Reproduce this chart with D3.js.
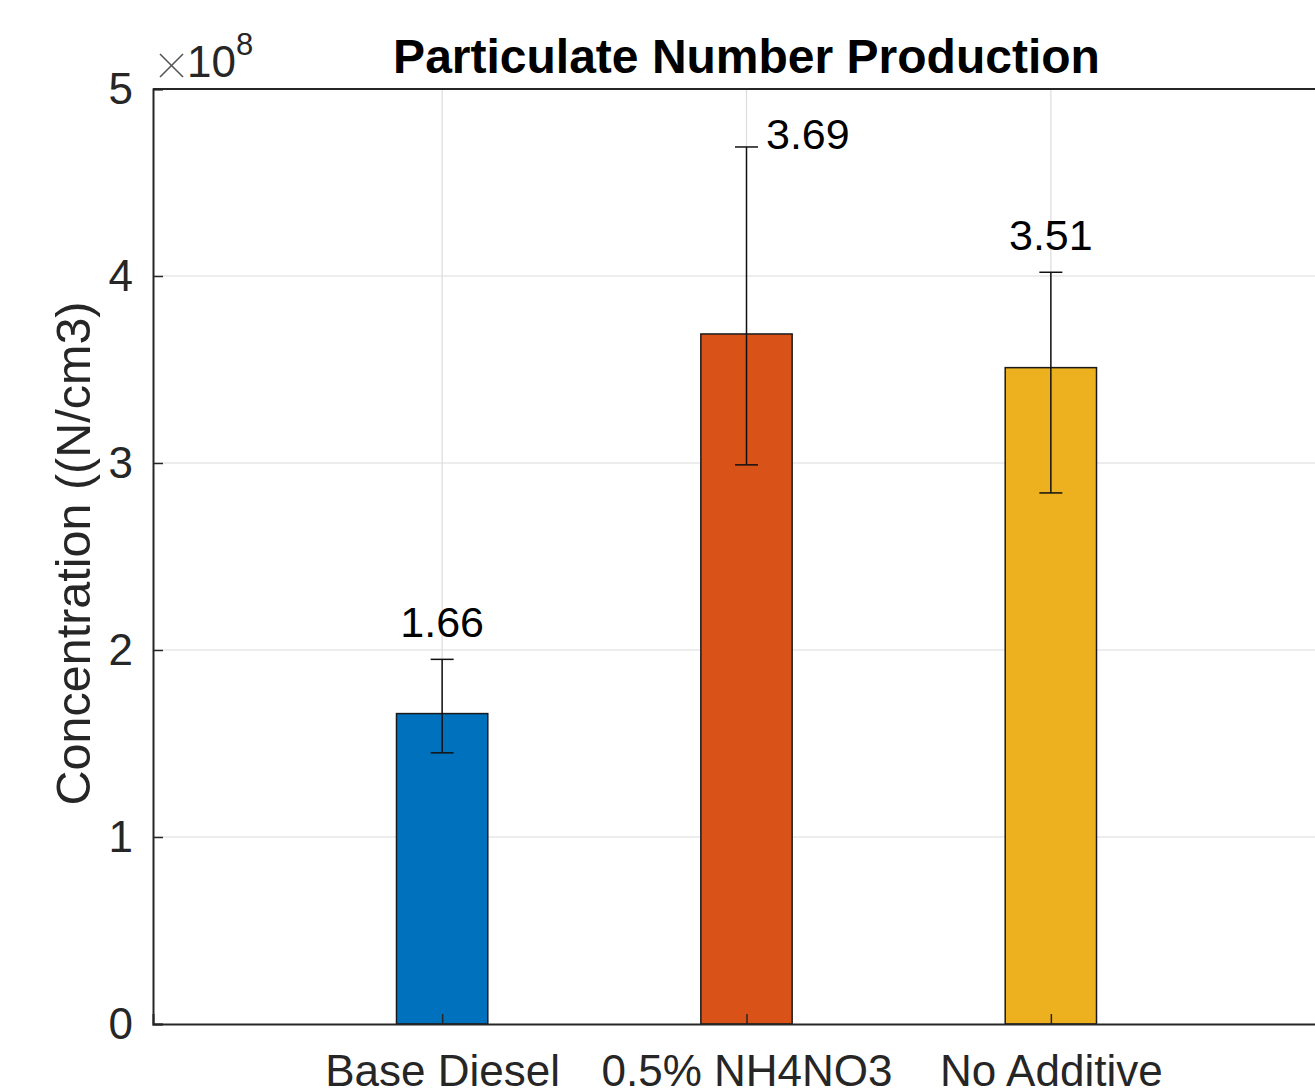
<!DOCTYPE html>
<html>
<head>
<meta charset="utf-8">
<script src="https://cdn.jsdelivr.net/npm/d3@7"></script>
<style>
  html, body { margin: 0; padding: 0; background: #fff; }
  svg { display: block; font-family: "Liberation Sans", Arial, Helvetica, sans-serif; }
</style>
</head>
<body>
<svg id="chart" width="1315" height="1088"></svg>
<script>
// Fuel blends on the x axis
const categories = ["Base Diesel", "0.5% NH4NO3", "No Additive"];
// Mean particulate number concentration (×10^8 N/cm3)
const means = [1.66, 3.69, 3.51];
// Upper and lower error bar extents (×10^8 N/cm3)
const errUpper = [0.29, 1.00, 0.51];
const errLower = [0.21, 0.70, 0.67];
// Bar fill colours
const barColors = ["#0072BD", "#D95319", "#EDB120"];
// Y axis ticks
const yTicks = [0, 1, 2, 3, 4, 5];

const svg = d3.select("#chart");
const W = 1315, H = 1088;
svg.append("rect").attr("width", W).attr("height", H).attr("fill", "#fff");

const margin = { left: 153, top: 89, bottom: 1024 };
const axisRight = 1340;
const textColor = "#262626";
const tickFont = 44;

const x = d3.scaleLinear().domain([0.05, 3.95]).range([margin.left, axisRight]);
const y = d3.scaleLinear().domain([0, 5]).range([margin.bottom, margin.top]);
const barW = x(1.3) - x(1);
const capHalf = 11.5;

const plot = svg.append("g");

// Grid lines
plot.append("g").selectAll("line.hgrid").data(yTicks.slice(1, -1)).join("line")
  .attr("x1", margin.left).attr("x2", axisRight)
  .attr("y1", d => y(d)).attr("y2", d => y(d))
  .attr("stroke", "#dcdcdc").attr("stroke-width", 1.2);
plot.append("g").selectAll("line.vgrid").data(categories).join("line")
  .attr("x1", (d, i) => x(i + 1)).attr("x2", (d, i) => x(i + 1))
  .attr("y1", margin.top).attr("y2", margin.bottom)
  .attr("stroke", "#dcdcdc").attr("stroke-width", 1.2);

// Bars
plot.append("g").selectAll("rect").data(means).join("rect")
  .attr("x", (d, i) => x(i + 1) - barW / 2)
  .attr("width", barW)
  .attr("y", d => y(d))
  .attr("height", d => y(0) - y(d))
  .attr("fill", (d, i) => barColors[i])
  .attr("stroke", "#1a1a1a").attr("stroke-width", 1.5);

// Axes (box with inward ticks)
const yAxis = d3.axisLeft(y).tickValues(yTicks).tickSize(-10).tickPadding(20).tickFormat(d3.format("d"));
const gy = svg.append("g").attr("transform", `translate(${margin.left},0)`).call(yAxis);
const xAxis = d3.axisBottom(x).tickValues([1, 2, 3]).tickSize(-10).tickPadding(31)
  .tickFormat(d => categories[d - 1]);
const gx = svg.append("g").attr("transform", `translate(0,${margin.bottom})`).call(xAxis);
[gy, gx].forEach(g => {
  g.select(".domain").attr("stroke", textColor).attr("stroke-width", 2);
  g.selectAll(".tick line").attr("stroke", textColor).attr("stroke-width", 1.5);
  g.selectAll(".tick text").attr("fill", textColor).attr("font-size", tickFont)
    .attr("font-family", "'Liberation Sans', Arial, sans-serif");
});
gx.selectAll(".tick text").attr("dy", "0.71em");
// Top box edge
svg.append("line").attr("x1", margin.left).attr("x2", axisRight)
  .attr("y1", margin.top).attr("y2", margin.top)
  .attr("stroke", textColor).attr("stroke-width", 2);

// Error bars
const eb = svg.append("g").attr("stroke", "#111").attr("stroke-width", 1.5);
means.forEach((m, i) => {
  const cx = x(i + 1), yt = y(m + errUpper[i]), yb = y(m - errLower[i]);
  eb.append("line").attr("x1", cx).attr("x2", cx).attr("y1", yt).attr("y2", yb);
  eb.append("line").attr("x1", cx - capHalf).attr("x2", cx + capHalf).attr("y1", yt).attr("y2", yt);
  eb.append("line").attr("x1", cx - capHalf).attr("x2", cx + capHalf).attr("y1", yb).attr("y2", yb);
});

// Value labels above the error bars; a label that would crowd the top edge sits beside the cap
const labelSize = 43;
svg.append("g").selectAll("text").data(means).join("text")
  .each(function (m, i) {
    const cx = x(i + 1), yt = y(m + errUpper[i]);
    const t = d3.select(this).attr("font-size", labelSize).attr("fill", "#000")
      .text(d3.format(".2f")(m));
    if (yt - 23 - labelSize * 0.72 < margin.top + 12) {
      t.attr("x", cx + capHalf + 8).attr("y", yt + 2).attr("text-anchor", "start");
    } else {
      t.attr("x", cx).attr("y", yt - 22).attr("text-anchor", "middle");
    }
  });

// Exponent label (thin multiplication cross drawn as two strokes)
const exG = svg.append("g").attr("stroke", "#555").attr("stroke-width", 1.6);
exG.append("line").attr("x1", 160).attr("y1", 54).attr("x2", 183).attr("y2", 77);
exG.append("line").attr("x1", 160).attr("y1", 77).attr("x2", 183).attr("y2", 54);
const ex = svg.append("text").attr("x", 187).attr("y", 77).attr("fill", textColor).attr("font-size", tickFont);
ex.append("tspan").text("10");
ex.append("tspan").attr("font-size", 31).attr("dy", -22).text("8");

// Title
svg.append("text").attr("x", (margin.left + axisRight) / 2).attr("y", 73)
  .attr("text-anchor", "middle").attr("font-weight", "bold").attr("font-size", 48)
  .attr("fill", "#000").text("Particulate Number Production");

// Y axis label
svg.append("text")
  .attr("transform", `translate(90,${(margin.top + margin.bottom) / 2 - 3}) rotate(-90)`)
  .attr("text-anchor", "middle").attr("font-size", 48.5).attr("fill", textColor)
  .text("Concentration ((N/cm3)");
</script>
</body>
</html>
